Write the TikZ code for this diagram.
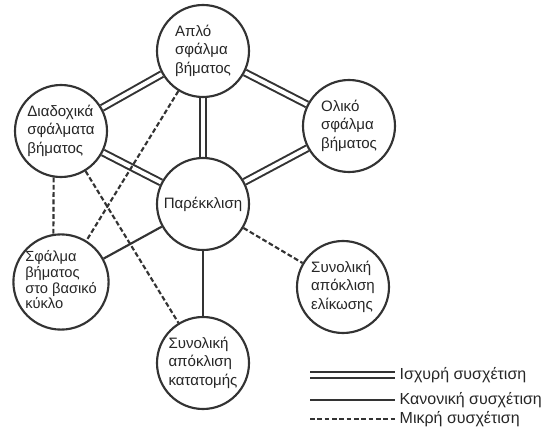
\documentclass[tikz,border=0pt]{standalone}
\usepackage{fontspec}
\setmainfont{Liberation Sans}
\usetikzlibrary{backgrounds}
\newcommand{\grammes}[1]{\begin{tabular}{@{}l@{}}#1\end{tabular}}

\begin{document}
\begin{tikzpicture}[x=0.75pt,y=-0.75pt,
		kyklos/.style={draw=black!80,line width=1.6pt,circle,fill=white,minimum size=69pt,inner sep=0pt,text=black!85,font=\fontsize{11.3}{14}\selectfont},
		ischyri/.style={draw=black!80,double,double distance=3pt,line width=1.5pt},
		kanoniki/.style={draw=black!80,line width=1.6pt},
		mikri/.style={draw=black!80,line width=1.6pt,dash pattern=on 3.6pt off 1.9pt},
		ypomnima/.style={anchor=west,text=black!85,font=\fontsize{12}{14}\selectfont}]
		\useasboundingbox (0,0) rectangle (546,434);

		\node[kyklos] (apl) at (203,51) {\grammes{Απλό\\σφάλμα\\βήματος}};
		\node[kyklos] (diad) at (61,131) {\grammes{Διαδοχικά\\σφάλματα\\βήματος}};
		\node[kyklos] (olik) at (349,126) {\grammes{Ολικό\\σφάλμα\\βήματος}};
		\node[kyklos] (parek) at (203,204) {Παρέκκλιση};
		\node[kyklos,font=\fontsize{11}{11.8}\selectfont] (sfal) at (61,282) {\grammes{Σφάλμα\\βήματος\\στο βασικό\\κύκλο}};
		\node[kyklos] (elik) at (343,287) {\grammes{Συνολική\\απόκλιση\\ελίκωσης}};
		\node[kyklos] (katat) at (203,363) {\grammes{Συνολική\\απόκλιση\\κατατομής}};

		\begin{scope}[on background layer]
			\draw[ischyri] (diad) -- (apl);
			\draw[ischyri] (apl) -- (olik);
			\draw[ischyri] (apl) -- (parek);
			\draw[ischyri] (diad) -- (parek);
			\draw[ischyri] (olik) -- (parek);
			\draw[kanoniki] (parek) -- (sfal);
			\draw[kanoniki] (parek) -- (katat);
			\draw[mikri] (parek) -- (elik);
			\draw[mikri] (diad.261) -- (sfal.99);
			\draw[mikri] (apl) -- (sfal);
			\draw[mikri] (diad) -- (katat);
		\end{scope}

		\node[ypomnima] (legI) at (395,375) {Ισχυρή συσχέτιση};
		\node[ypomnima] (legK) at (395,400) {Κανονική συσχέτιση};
		\node[ypomnima] (legM) at (395,419) {Μικρή συσχέτιση};
		\coordinate (legIa) at (310,375);
		\coordinate (legKa) at (310,400);
		\coordinate (legMa) at (310,419);

		\draw[ischyri] (legIa) -- (legI.west);
		\draw[kanoniki] (legKa) -- (legK.west);
		\draw[mikri] (legMa) -- (legM.west);
	\end{tikzpicture}
\end{document}
